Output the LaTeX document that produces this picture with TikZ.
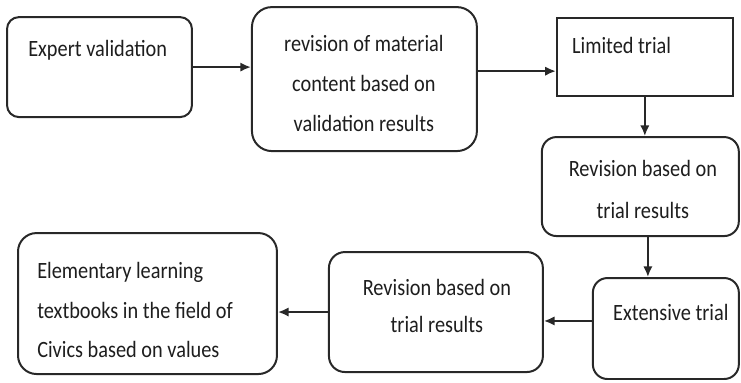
\documentclass[tikz,border=0pt]{standalone}
\usepackage{fontspec}
\setmainfont{Carlito}
\usepackage{tikz}
\usetikzlibrary{arrows.meta,positioning,calc}
\definecolor{lineGray}{RGB}{40, 40, 40}
\definecolor{textGray}{RGB}{30, 30, 30}

\tikzset{
  flowbox/.style={draw=lineGray,line width=1.5pt,fill=white,
                  rounded corners=#1,inner sep=0pt},
  flowbox/.default=9pt,
  flowtext/.style={font=\fontsize{15.3}{26}\selectfont,textGray,inner sep=0pt,
                   yscale=1.15,transform shape},
  flowarrow/.style={-{Latex[length=8pt,width=7pt]},line width=1.5pt,lineGray}
}

\begin{document}
\begin{tikzpicture}

    \useasboundingbox (0,0) rectangle (19.61,10.11);

    % ── LINHA DE CIMA ─────────────────────────────────────
    \node[flowbox=9pt,minimum width=4.895cm,minimum height=2.646cm]
      (expert) at (2.633,8.334){};
    \node[flowtext,anchor=west] (expertText) at (0.741,8.784){
      Expert validation
    };

    \node[flowbox=15pt,minimum width=5.953cm,minimum height=3.810cm]
      (matrev) at (9.644,8.017){};
    \node[flowtext,align=center] (matrevText) at (9.630,7.900){
      revision of material\\
      content based on\\
      validation results
    };

    \node[flowbox=0pt,minimum width=4.657cm,minimum height=2.064cm]
      (limited) at (17.065,8.599){};
    \node[flowtext,anchor=west] (limitedText) at (15.134,8.916){
      Limited trial
    };

    % ── COLUNA DA DIREITA ─────────────────────────────────
    \node[flowbox=11pt,minimum width=5.212cm,minimum height=2.619cm]
      (revTrial) at (16.946,5.173){};
    \node[flowtext,align=center,font=\fontsize{15.3}{27.4}\selectfont]
      (revTrialText) at (17.013,5.106){
      Revision based on\\
      trial results
    };

    \node[flowbox=11pt,minimum width=3.863cm,minimum height=2.672cm]
      (extensive) at (17.621,1.416){};
    \node[flowtext,anchor=west] (extensiveText) at (16.219,1.852){
      Extensive trial
    };

    % ── LINHA DE BAIXO ────────────────────────────────────
    \node[flowbox=12pt,minimum width=5.662cm,minimum height=3.175cm]
      (revFinal) at (11.536,1.852){};
    \node[flowtext,align=center,font=\fontsize{15.3}{24.8}\selectfont]
      (revFinalText) at (11.562,2.011){
      Revision based on\\
      trial results
    };

    \node[flowbox=14pt,minimum width=6.853cm,minimum height=3.731cm]
      (textbook) at (3.903,2.077){};
    \node[flowtext,align=left,anchor=west] (textbookText) at (0.979,1.905){
      Elementary learning\\
      textbooks in the field of\\
      Civics based on values
    };

    % ── SETAS ─────────────────────────────────────────────
    \draw[flowarrow] (expert.east) -- (expert.east -| matrev.west);
    \draw[flowarrow] ([yshift=0.21cm]matrev.east)
      -- ([yshift=0.21cm]matrev.east -| limited.west);
    \draw[flowarrow] (limited.south) -- (limited.south |- revTrial.north);
    \draw[flowarrow] ([xshift=0.2cm]revTrial.south)
      -- ([xshift=0.2cm]revTrial.south |- extensive.north);
    \draw[flowarrow] ([yshift=0.2cm]extensive.west)
      -- ([yshift=0.2cm]extensive.west -| revFinal.east);
    \draw[flowarrow] (revFinal.west) -- (revFinal.west -| textbook.east);

  \end{tikzpicture}
\end{document}
